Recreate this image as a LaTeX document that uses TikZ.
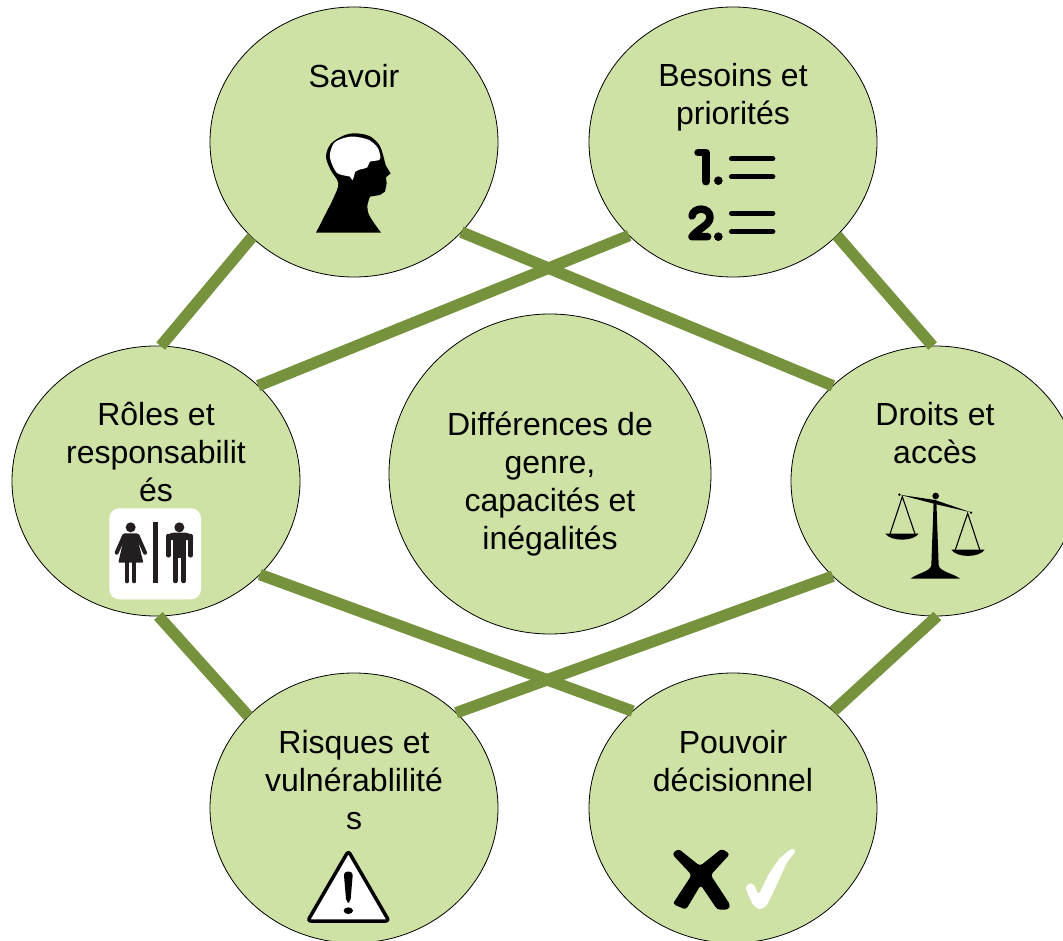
\documentclass[tikz,border=0pt]{standalone}
\usepackage{fontspec}
\setmainfont{Liberation Sans}
\usetikzlibrary{shapes.geometric}
\definecolor{disc}{HTML}{CFE2A6}
\definecolor{link}{HTML}{76923C}
\definecolor{ink}{HTML}{231F20}
\tikzset{
  disc/.style={ellipse,draw=black,line width=0.8pt,fill=disc,inner sep=0pt,outer sep=0pt,minimum width=288pt,minimum height=270pt},
  linkline/.style={draw=link,line width=11.5pt},
  label/.style={inner sep=0pt,outer sep=0pt,align=center,font=\fontsize{32}{38}\selectfont,text=black},
  zoomed/.style={x=0.33333pt,y=-0.33333pt}
}
\begin{document}
\begin{tikzpicture}[x=1pt,y=-1pt]
\useasboundingbox (0,0) rectangle (1063,941);
\clip (0,0) rectangle (1063,941);
\fill[white] (0,0) rectangle (1063,941);
% discs
\node[disc] (savoir) at (354,142) {};
\node[disc] (besoins) at (733,142) {};
\node[disc] (roles) at (156,481) {};
\node[disc] (droits) at (935,481) {};
\node[disc] (risques) at (354,808) {};
\node[disc] (pouvoir) at (733,808) {};
\node[disc,minimum width=322pt,minimum height=320pt] (centre) at (550,474) {};
% connectors
\draw[linkline] (savoir.223.8) -- (roles.88.3);
\draw[linkline] (besoins.-42.9) -- (droits.91.7);
\draw[linkline] (besoins.222) -- (roles.43.5);
\draw[linkline] (savoir.-40) -- (droits.137.7);
\draw[linkline] (roles.-42.7) -- (pouvoir.136.2);
\draw[linkline] (droits.223.8) -- (risques.43.2);
\draw[linkline] (roles.-89.6) -- (risques.139);
\draw[linkline] (droits.-89.6) -- (pouvoir.44);
% labels
\node[label] (tsavoir) at (354,76) {Savoir};
\node[label] (tbesoins) at (733,97) {Besoins et\\priorités};
\node[label] (troles) at (156,452) {Rôles et\\responsabilit\\és};
\node[label] (tcentre) at (550,484) {Différences de\\genre,\\capacités et\\inégalités};
\node[label] (tdroits) at (935,433) {Droits et\\accès};
\node[label] (trisques) at (354,780) {Risques et\\vulnérablilité\\s};
\node[label] (tpouvoir) at (733,761) {Pouvoir\\décisionnel};
% head icon
\begin{scope}[shift={(290,120)},zoomed]
\fill[black] (78,338) -- plot[smooth,tension=0.55] coordinates {(78,338) (105,285) (130,235) (145,190) (122,150) (108,110) (122,72) (160,47) (195,40) (238,48) (268,75) (282,115) (287,135) (302,160)} -- (288,172) -- (290,190) -- (285,215) -- (270,225) -- (240,230) -- plot[smooth,tension=0.6] coordinates {(240,230) (232,260) (240,290) (273,338)} -- cycle;
\fill[white] plot[smooth cycle,tension=0.5] coordinates {(120,100) (133,68) (165,53) (195,50) (237,60) (264,85) (270,118) (240,125) (232,142) (205,150) (196,155) (188,180) (180,170) (165,167) (140,158) (123,125)};
\end{scope}
% numbered list icon
\begin{scope}[shift={(670,130)},zoomed]
\draw[black,line width=7.5pt,line cap=round,line join=round] (84,68) -- (108,68) -- (108,155);
\draw[black,line width=7.5pt,line cap=round,line join=round] (66,258) .. controls (70,230) and (120,230) .. (120,262) .. controls (120,285) and (85,295) .. (66,320) -- (113,320);
\fill[black] (145,152) circle[radius=13] (145,320) circle[radius=13];
\draw[black,line width=5.5pt,line cap=round] (185,86) -- (308,86) (185,140) -- (308,140) (185,250) -- (308,250) (185,305) -- (308,305);
\end{scope}
% toilet sign icon
\begin{scope}[shift={(100,500)},zoomed]
\fill[white,rounded corners=10pt] (28,25) rectangle (303,298);
\fill[ink] (92,82) circle[radius=15] (238,82) circle[radius=15];
\fill[ink] (158,67) rectangle (175,248);
\fill[ink,rounded corners=1pt] (70,100) -- (114,100) -- (116,130) -- (130,188) -- (55,188) -- (68,130) -- cycle;
\draw[ink,line width=4pt,line cap=round] (72,108) -- (50,158) (113,108) -- (135,158);
\draw[ink,line width=4pt,line cap=round] (81,188) -- (81,244) (103,188) -- (103,244);
\fill[ink,rounded corners=3pt] (198,120) -- (198,110) -- (212,98) -- (265,98) -- (279,110) -- (279,120) -- cycle;
\fill[ink] (220,100) rectangle (258,175);
\draw[ink,line width=4.5pt,line cap=round] (205,108) -- (205,166) (272,108) -- (272,166);
\draw[ink,line width=4.5pt,line cap=round] (226,170) -- (226,243) (251,170) -- (251,243);
\end{scope}
% scales icon
\begin{scope}[shift={(870,480)},zoomed]
\fill[black] (191,60) -- (199,60) -- (206,255) .. controls (208,275) and (250,280) .. (270,296) -- (122,296) .. controls (140,280) and (182,275) .. (184,255) -- cycle;
\fill[black] (197,48) circle[radius=10] (88,44) circle[radius=4] (303,98) circle[radius=4];
\fill[black] (88,44) -- (195,60) -- (303,97) -- (195,72) -- cycle;
\draw[black,line width=1.1pt] (60,162) -- (97,50) -- (135,162) (255,212) -- (293,100) -- (330,212);
\fill[black] (46,161) -- (146,161) .. controls (130,185) and (62,185) .. (46,161) -- cycle;
\fill[black] (244,209) -- (344,209) .. controls (328,234) and (260,234) .. (244,209) -- cycle;
\end{scope}
% warning icon
\begin{scope}[shift={(290,840)},zoomed]
\draw[black,fill=white,line width=3.5pt,line join=round,rounded corners=3pt] (175,33) -- (297,243) -- (53,243) -- cycle;
\fill[black,rounded corners=3.5pt] (161,95) -- (189,95) -- (181,188) -- (169,188) -- cycle;
\fill[black] (175,212) ellipse[x radius=14,y radius=10];
\end{scope}
% cross and check icon
\begin{scope}[shift={(660,830)},zoomed]
\fill[black,rounded corners=3pt] (36,72) -- (55,56) -- (120,108) -- (185,56) -- (210,72) -- (152,135) -- (211,225) -- (205,239) -- (172,239) -- (122,165) -- (78,239) -- (38,222) -- (95,135) -- cycle;
\fill[white] plot[smooth cycle,tension=0.45] coordinates {(258,175) (272,160) (285,170) (297,190) (325,135) (360,85) (395,57) (405,65) (380,100) (350,165) (320,225) (300,237) (280,225)};
\end{scope}
\end{tikzpicture}
\end{document}
